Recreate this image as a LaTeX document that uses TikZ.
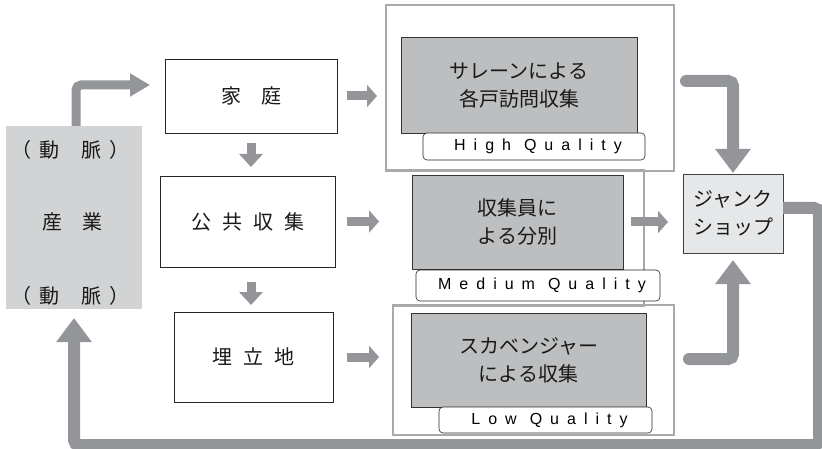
\documentclass[tikz,border=0pt]{standalone}
\usepackage{fontspec}
\setmainfont{Liberation Sans}
\newfontfamily\jp{Noto Sans CJK JP}
\newfontfamily\lab{Liberation Sans}[LetterSpace=50]
\usetikzlibrary{arrows.meta}
\definecolor{arr}{HTML}{939598}
\definecolor{ind}{HTML}{D1D3D4}
\definecolor{dark}{HTML}{BCBEC0}
\definecolor{junkc}{HTML}{E6E7E8}
\definecolor{frm}{HTML}{A7A9AC}
\newcommand{\qtext}[2]{\hspace{8pt}#1\hspace{13pt}#2}
\begin{document}
\begin{tikzpicture}[x=1pt,y=-1pt,
  every node/.style={inner sep=0pt, outer sep=0pt},
  jptext/.style={font=\jp\fontsize{20}{28}\selectfont, align=center, text=black!90},
  wbox/.style={draw=black!85, line width=0.7pt, fill=white, anchor=north west, jptext},
  dbox/.style={draw=black!80, line width=0.7pt, fill=dark, anchor=north west, jptext},
  qlabel/.style={draw=black!85, line width=0.6pt, fill=white, rounded corners=4pt, anchor=north west, font=\lab\fontsize{16}{17}\selectfont, text=black},
  frame/.style={draw=frm, line width=1.6pt},
  sarr/.style={draw=arr, line width=9pt, -{Triangle[width=22pt,length=10pt]}},
  darr/.style={draw=arr, line width=9pt, -{Triangle[width=23pt,length=13pt]}},
  barr/.style={draw=arr, line width=12pt, rounded corners=5pt, -{Triangle[width=34pt,length=24pt]}},
]
\useasboundingbox (0,0) rectangle (822,449);

% frames
\draw[frame] (386,5) rectangle (674,171);
\draw[frame] (393,305) rectangle (674,435);
\draw[frame] (386,170) -- (644,170) -- (644,306) -- (393,306);

% industry
\node[fill=ind, minimum width=136pt, minimum height=183pt, anchor=north west] (ind) at (6,126) {};
\node[jptext] (ind1) at (71,150) {（\hspace{8pt}動\hspace{22pt}脈\hspace{8pt}）};
\node[jptext] (ind2) at (72,222) {産\hspace{1em}業};
\node[jptext] (ind3) at (71,296) {（\hspace{8pt}動\hspace{22pt}脈\hspace{8pt}）};

% source boxes
\node[wbox, minimum width=172pt, minimum height=74pt] (home) at (165,59) {家\hspace{1em}庭};
\node[wbox, minimum width=175pt, minimum height=91pt] (pub) at (160,176) {公\hspace{11pt}共\hspace{11pt}収\hspace{11pt}集};
\node[wbox, minimum width=159pt, minimum height=90pt] (land) at (174,312) {埋\hspace{11pt}立\hspace{11pt}地};

% collection boxes
\node[dbox, minimum width=236pt, minimum height=96pt] (sarain) at (401,37) {サレーンによる\\各戸訪問収集};
\node[qlabel, minimum width=222pt, minimum height=27pt] (hq) at (423,133) {\qtext{High}{Quality}};
\node[dbox, minimum width=211pt, minimum height=94pt] (staff) at (412,175) {収集員に\\よる分別};
\node[qlabel, minimum width=244pt, minimum height=31pt] (mq) at (416,270) {\qtext{Medium}{Quality}};
\node[dbox, minimum width=235pt, minimum height=94pt] (scav) at (411,313) {スカベンジャー\\による収集};
\node[qlabel, minimum width=213pt, minimum height=26pt] (lq) at (439,407) {\qtext{Low}{Quality}};

% junk shop
\node[draw=black!75, line width=0.7pt, fill=junkc, minimum width=100pt, minimum height=79pt, anchor=north west, jptext] (junk) at (683,174) {ジャンク\\ショップ};

% bend coordinates
\coordinate (c1) at (76,85);
\coordinate (c2) at (733,81);
\coordinate (c3) at (733,359);
\coordinate (c4) at (819,208);
\coordinate (c5) at (819,445);
\coordinate (c6) at (74,445);

% arrows
\draw[draw=arr, line width=9pt, rounded corners=5pt, -{Triangle[width=22pt,length=20pt]}]
  (ind.north -| c1) -- (c1) -- ([xshift=-15pt]home.west |- c1);
\draw[sarr] ([xshift=10pt]home.east) -- ([xshift=40pt]home.east);
\draw[sarr] ([xshift=12pt]pub.east) -- ([xshift=44pt]pub.east);
\draw[sarr] ([xshift=14pt]land.east) -- ([xshift=46pt]land.east);
\draw[darr] ([yshift=-10pt]home.south) -- ++(0,24);
\draw[darr] ([yshift=-15pt,xshift=3.5pt]pub.south) -- ++(0,23);
\draw[sarr] ([xshift=8pt]staff.east) -- ([xshift=45pt]staff.east);
\draw[barr, line cap=round] ([xshift=49pt]sarain.east |- c2) -- (c2) -- ([yshift=1pt]junk.north);
\draw[barr, line cap=round] ([xshift=6pt]junk.west |- c3) -- (c3) -- ([yshift=-7pt]junk.south);
\draw[barr] (junk.east |- c4) -- (c4) -- (c5) -- (c6) -- ([yshift=-9pt]ind.south -| c6);
\end{tikzpicture}
\end{document}
